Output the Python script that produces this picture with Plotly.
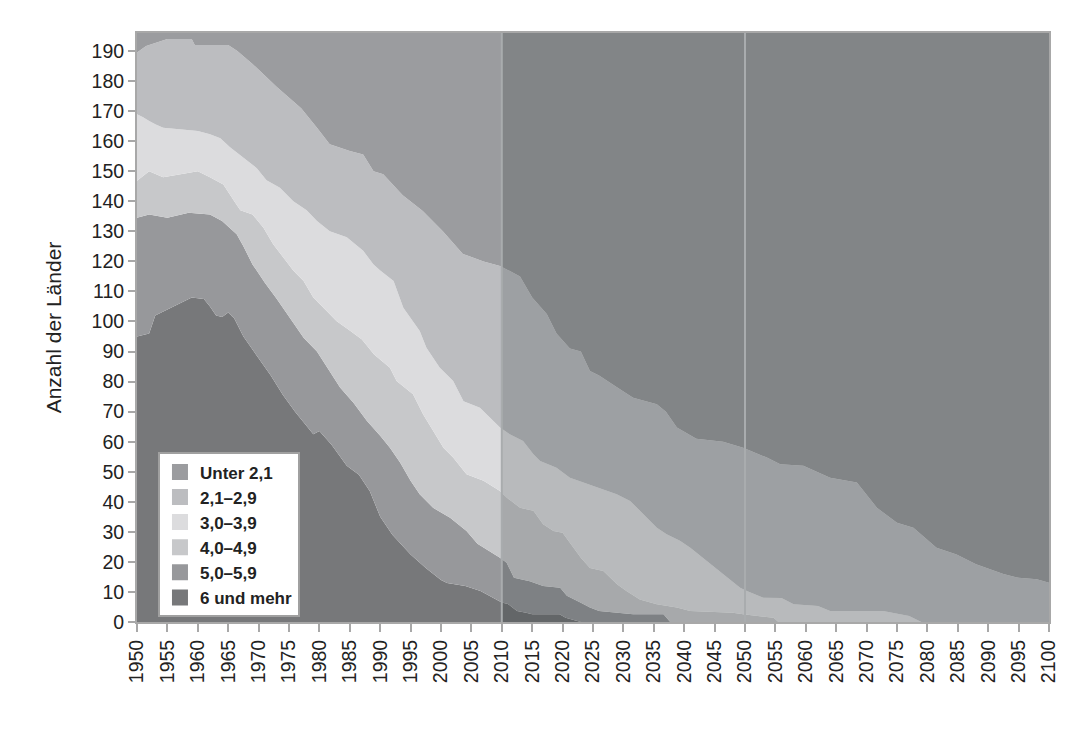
import plotly.graph_objects as go

# Upper edges (cumulative count of countries)
years_6 = [1950, 1952, 1953, 1955, 1957, 1959, 1961, 1962, 1963, 1964, 1965, 1966, 1967.5, 1970, 1972, 1974,
           1976, 1978, 1979, 1980, 1982, 1984.5, 1986.5, 1988.3, 1990, 1992, 1995, 1997.5, 2000, 2001, 2004,
           2006.5, 2008.5, 2010, 2011, 2012.5, 2014, 2015, 2019.5, 2020.5, 2023, 2100]
edge_6 = [95, 96, 102, 104, 106, 108, 107.5, 105, 102, 101.5, 103, 101, 95, 88, 82, 75.5,
          70, 65, 62.5, 63.6, 59, 52, 49, 43.5, 35, 29, 22.5, 18, 14, 13, 12,
          10.3, 8, 6.5, 6, 3.7, 3.1, 2.6, 2.6, 1.4, 0, 0]

years_5 = [1950, 1952, 1955, 1958.5, 1962, 1964, 1966.4, 1967.5, 1969, 1971, 1973, 1975.2, 1977.4, 1979.6,
           1981.7, 1983.4, 1985.6, 1987.8, 1990, 1991.6, 1993.3, 1995, 1996.5, 1998.7, 2001.5, 2004.2, 2006,
           2009.7, 2010.8, 2012, 2014.6, 2016.8, 2019.6, 2020.7, 2023, 2024.5, 2026, 2029.4, 2031.6, 2036.6,
           2037.7, 2100]
edge_5 = [134.5, 135.6, 134.5, 136.2, 135.6, 133.4, 129, 125, 119, 113, 107.5, 101, 94.6, 90,
          83.5, 78, 73, 67, 62, 58, 53, 47, 42.5, 38, 34.7, 30.3, 26,
          21.4, 19.7, 14.7, 13.6, 12, 11.4, 8.7, 6.4, 4.8, 3.7, 3.1, 2.6, 2.6,
          0, 0]

years_4 = [1950, 1952, 1954.3, 1957, 1960, 1962, 1964.2, 1966, 1967, 1969, 1970.8, 1972.4, 1974.1, 1975.7,
           1977.4, 1979, 1981.2, 1982.8, 1985, 1987, 1989, 1991.6, 1992.7, 1995.4, 1997.1, 1998.7, 2000.4,
           2002, 2004.2, 2007, 2009.7, 2010.8, 2013, 2015.2, 2016.8, 2018.5, 2020, 2021.8, 2023, 2024.5,
           2026.7, 2029, 2030.5, 2032.7, 2035.5, 2038.8, 2041, 2048, 2049.7, 2054.7, 2055.5, 2100]
edge_4 = [146.8, 150, 148, 149, 150, 148, 145.6, 140, 137, 135.6, 131.2, 125.7, 121.2, 117,
          113.5, 108, 103.5, 100.2, 97, 94, 89, 84.6, 80.2, 75.8, 69, 63.6, 58,
          54.7, 49.2, 47, 43.6, 41.4, 38, 37, 32.5, 30.3, 29.7, 24.7, 21.4, 18,
          17, 12.5, 10.3, 7.5, 5.9, 4.8, 3.7, 3.1, 2.6, 1.4, 0, 0]

years_3 = [1950, 1951, 1952, 1953, 1954.3, 1960, 1962, 1963.7, 1965.3, 1967.5, 1969.7, 1971.3, 1973.5, 1975.7,
           1977.9, 1979.6, 1981.7, 1984.5, 1987.2, 1988.9, 1990, 1992.2, 1993.8, 1996.5, 1997.6, 1999.8, 2002,
           2003.7, 2006.4, 2009.7, 2011.3, 2013.5, 2015.2, 2016.3, 2019, 2021.2, 2023.4, 2025.6, 2028.9, 2031.1,
           2033.3, 2035.5, 2037.1, 2039.3, 2041, 2043.7, 2046.4, 2049.2, 2050.3, 2053, 2056, 2058, 2062, 2064,
           2072.7, 2077, 2079, 2100]
edge_3 = [169, 168, 166.7, 165.6, 164.5, 163.4, 162.3, 161, 158, 154.5, 151, 147, 144.5, 140,
          137, 133.4, 130, 128, 123.5, 119, 117, 113.5, 104.6, 96.8, 91.3, 84.6, 80.2,
          73.5, 71.3, 64.7, 62.5, 60.2, 55.8, 53.6, 51.3, 48, 46.4, 44.7, 42.5, 40.3,
          35.8, 31.4, 29.2, 27, 24.7, 20.3, 15.9, 11.4, 10.3, 8.1, 8, 5.9, 5.3, 3.7,
          3.7, 2, 0, 0]

years_2 = [1950, 1951.5, 1955, 1959, 1959.5, 1965, 1966.5, 1969, 1973, 1977, 1979.6, 1981.7, 1985, 1987.2,
           1988.9, 1990.5, 1993.7, 1997, 2000.3, 2003.6, 2007, 2009.7, 2013, 2015, 2017.4, 2019, 2021.2, 2023,
           2024.5, 2026, 2029, 2031.6, 2035.5, 2037, 2038.8, 2042, 2046.4, 2049.7, 2053.6, 2055.8, 2059.6,
           2064, 2068.4, 2070, 2071.7, 2075, 2077.7, 2081.5, 2084.8, 2088, 2092.5, 2095, 2098, 2100]
edge_2 = [189.5, 191.7, 194, 194, 192, 192, 190, 185.7, 178, 171, 164.5, 159, 156.7, 155.6,
          150, 149, 142, 136.8, 130, 122.5, 120, 118.5, 115, 108, 102.5, 96, 91, 90,
          83.5, 82, 78, 74.6, 72.5, 70, 64.7, 61, 60, 58, 54.7, 52.5, 52,
          48, 46.4, 42.5, 38, 33, 31.4, 24.7, 22.5, 19.2, 16, 14.7, 14.2, 13.1]

years_1 = [1950, 2100]
edge_1 = [196, 196]

names = ["6 und mehr", "5,0–5,9", "4,0–4,9", "3,0–3,9", "2,1–2,9", "Unter 2,1"]
colors = ["#77787a", "#97989b", "#c7c8ca", "#dcdcde", "#bcbdc0", "#9b9c9f"]
year_ticks = list(range(1950, 2101, 5))
y_ticks = list(range(0, 191, 10))

bands = [(years_6, edge_6), (years_5, edge_5), (years_4, edge_4),
         (years_3, edge_3), (years_2, edge_2), (years_1, edge_1)]

FONT = "Liberation Sans, Arial, Helvetica, sans-serif"

fig = go.Figure()
for i, ((xs, ys), name, col) in enumerate(zip(bands, names, colors)):
    fig.add_trace(go.Scatter(
        x=xs, y=ys, mode="lines", line=dict(width=0, color=col),
        fill="tozeroy" if i == 0 else "tonexty", fillcolor=col,
        showlegend=False, hoverinfo="skip"))

# legend entries (square swatches), top to bottom
for name, col in zip(names[::-1], colors[::-1]):
    fig.add_trace(go.Scatter(
        x=[None], y=[None], mode="markers", name=name,
        marker=dict(symbol="square", size=16, color=col, line=dict(width=0))))

# projection overlay and marker lines
fig.add_shape(type="rect", xref="x", yref="y", x0=2010, x1=2100, y0=0, y1=196,
              fillcolor="rgba(0,12,12,0.16)", line=dict(width=0), layer="above")
for xv in (2010, 2050):
    fig.add_shape(type="line", xref="x", yref="y", x0=xv, x1=xv, y0=0, y1=196,
                  line=dict(color="#a9acae", width=2), layer="above")

fig.update_layout(
    width=1089, height=750,
    margin=dict(l=129, r=48, t=25, b=136),
    paper_bgcolor="white", plot_bgcolor="white",
    font=dict(family=FONT, size=19.5, color="#222222"),
    legend=dict(
        x=0.023, y=0.288, xanchor="left", yanchor="top",
        bgcolor="white", bordercolor="#a0a0a0", borderwidth=2,
        font=dict(family=FONT, size=17, color="#222222", weight="bold"),
        itemwidth=30, tracegroupgap=0, traceorder="normal",
    ),
    showlegend=True,
)
fig.update_xaxes(
    range=[1950, 2100], tickmode="array", tickvals=year_ticks,
    ticktext=[str(y) for y in year_ticks], tickangle=-90,
    ticks="outside", ticklen=8, tickcolor="#a8a8a8", tickwidth=1.5,
    showline=True, linecolor="#a8a8a8", linewidth=2, mirror=True,
    showgrid=False, zeroline=False, automargin=False,
)
fig.update_yaxes(
    range=[0, 196], tickmode="array", tickvals=y_ticks,
    ticks="outside", ticklen=7, tickcolor="#a8a8a8", tickwidth=1.5,
    showline=True, linecolor="#a8a8a8", linewidth=2, mirror=True,
    showgrid=False, zeroline=False, automargin=False,
    title=dict(text="Anzahl der Länder", standoff=24,
               font=dict(family=FONT, size=21, color="#222222")),
)

fig.write_html("out.html")
